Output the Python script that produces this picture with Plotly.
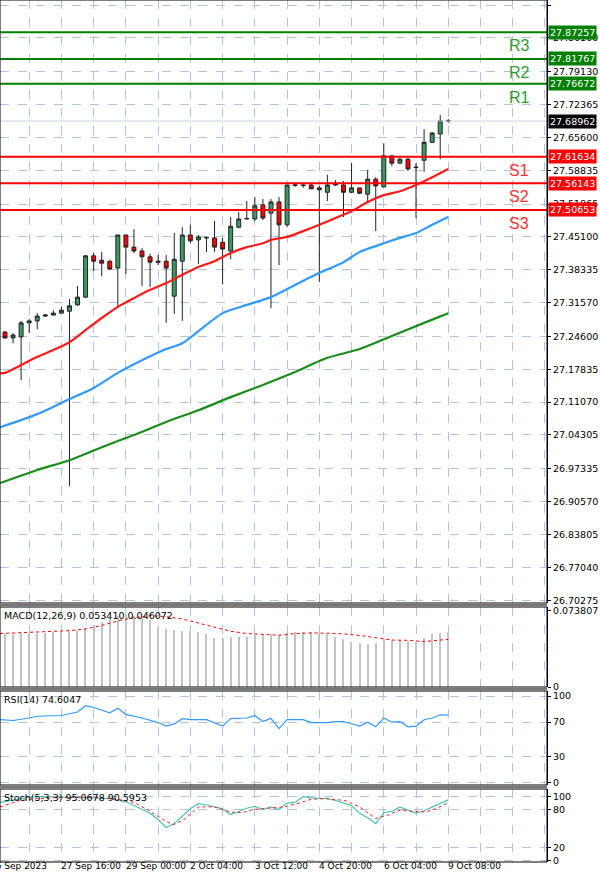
import plotly.graph_objects as go

# ---------------- data ----------------
idx = list(range(56))
opens = [27.255,27.243,27.245,27.274,27.278,27.288,27.290,27.294,27.298,27.311,27.327,27.412,27.403,27.401,27.387,27.455,27.430,27.422,27.410,27.401,
         27.401,27.329,27.401,27.455,27.445,27.449,27.449,27.440,27.422,27.471,27.488,27.488,27.517,27.500,27.523,27.476,27.557,27.558,27.558,27.552,
         27.543,27.562,27.558,27.543,27.552,27.539,27.570,27.554,27.618,27.603,27.611,27.595,27.609,27.646,27.663,27.690]
highs = [27.257,27.253,27.278,27.282,27.294,27.292,27.300,27.307,27.323,27.350,27.414,27.418,27.420,27.403,27.455,27.455,27.467,27.428,27.416,27.414,
         27.414,27.459,27.471,27.476,27.455,27.451,27.484,27.449,27.492,27.502,27.525,27.533,27.529,27.529,27.533,27.558,27.560,27.560,27.560,27.556,
         27.579,27.568,27.566,27.603,27.552,27.589,27.574,27.644,27.618,27.614,27.614,27.603,27.673,27.667,27.702,27.694]
lows = [27.241,27.232,27.156,27.253,27.261,27.286,27.290,27.294,26.938,27.309,27.325,27.381,27.370,27.383,27.304,27.375,27.418,27.350,27.348,27.393,
        27.274,27.292,27.278,27.438,27.395,27.420,27.420,27.354,27.405,27.469,27.487,27.484,27.486,27.304,27.393,27.471,27.554,27.552,27.550,27.358,
        27.525,27.556,27.492,27.541,27.539,27.521,27.463,27.554,27.597,27.601,27.587,27.490,27.585,27.644,27.611,27.686]
closes = [27.243,27.249,27.274,27.278,27.288,27.290,27.294,27.300,27.309,27.327,27.412,27.401,27.397,27.385,27.455,27.430,27.422,27.410,27.399,27.399,
          27.387,27.405,27.455,27.443,27.451,27.450,27.430,27.426,27.473,27.488,27.489,27.515,27.490,27.523,27.476,27.558,27.558,27.557,27.550,27.548,
          27.558,27.558,27.543,27.552,27.541,27.570,27.556,27.618,27.603,27.611,27.591,27.594,27.646,27.665,27.690,27.690]

ma_red_x = [-0.6,0,2,4,6,8,10,12,14,16,18,20,22,24,26,28,30,32,33,35,37,39,41,43,45,47,49,51,53,55]
ma_red_y = [27.170,27.171,27.187,27.204,27.218,27.234,27.259,27.284,27.307,27.325,27.342,27.356,27.373,27.389,27.401,27.418,27.430,27.438,27.445,
            27.451,27.463,27.476,27.490,27.504,27.523,27.537,27.545,27.558,27.574,27.591]
ma_blue_x = [-0.6,4,8,11,14,17,20,22,24,27,30,33,36,39,42,44,47,49,51,53,55]
ma_blue_y = [27.059,27.086,27.117,27.140,27.171,27.197,27.220,27.232,27.257,27.294,27.311,27.327,27.352,27.377,27.399,27.420,27.438,27.449,
             27.459,27.476,27.492]
ma_green_x = [-0.6,4,8,12,16,20,24,28,32,36,40,44,48,52,55]
ma_green_y = [26.944,26.971,26.991,27.018,27.043,27.070,27.094,27.121,27.146,27.173,27.202,27.220,27.247,27.274,27.294]

levels = {"R3": 27.87257, "R2": 27.81767, "R1": 27.76672, "S1": 27.61634, "S2": 27.56143, "S3": 27.50653}
last_price = 27.68962
price_ticks = [27.92865,27.86100,27.79130,27.72365,27.65600,27.58835,27.51865,27.45100,27.38335,27.31570,27.24600,
               27.17835,27.11070,27.04305,26.97335,26.90570,26.83805,26.77040,26.70275]

macd_hist = [0.0518,0.0518,0.0521,0.0524,0.0524,0.0528,0.0531,0.0534,0.0540,0.0553,0.0571,0.0597,0.0634,0.0666,0.0691,0.0697,0.0691,0.0681,
             0.0650,0.0578,0.0565,0.0556,0.0546,0.0540,0.0534,0.0509,0.0477,0.0477,0.0484,0.0484,0.0484,0.0499,0.0509,0.0509,0.0502,0.0521,
             0.0531,0.0531,0.0531,0.0521,0.0509,0.0484,0.0462,0.0440,0.0430,0.0414,0.0430,0.0462,0.0452,0.0452,0.0446,0.0440,0.0471,0.0509,
             0.0524,0.0534]
macd_sig_x = [-0.6,5,8,10,12,14,16,18,20,22,24,26,28,30,32,34,36,38,40,42,44,46,48,50,52,54,55]
macd_sig_y = [0.0518,0.0540,0.0546,0.0562,0.0597,0.0641,0.0672,0.0691,0.0681,0.0659,0.0619,0.0578,0.0540,0.0518,0.0509,0.0502,0.0518,
              0.0524,0.0521,0.0515,0.0499,0.0477,0.0455,0.0452,0.0440,0.0455,0.0461]

rsi_x = [-0.6,1,3,4,7,9,10,11,13,14,15,17,19,20,21,22,23,25,27,28,30,31,32,33,34,35,37,38,40,41,42,44,45,46,47,48,49,50,51,52,53,54,55]
rsi_y = [72.7,71.8,74.7,76.7,77.6,81.6,89.0,86.9,80.8,86.1,78.8,74.7,69.4,65.3,67.8,73.9,72.7,72.7,65.3,73.9,74.7,77.6,70.6,74.3,62.4,
         72.7,72.7,69.4,69.4,70.6,70.6,65.3,69.8,64.5,74.7,69.8,70.6,64.5,65.3,72.7,74.7,78.4,78.0]

stoch_k_x = [-0.6,2,4,7,9,11,13,15,16,18,19,20,21,23,24,25,27,28,30,31,32,33,34,35,36,37,38,40,41,43,44,45,46,47,48,49,50,51,52,54,55]
stoch_k_y = [91,97,100,100,99,98,97,92,86,74,64,52,58,81,89,87,81,72,82,85,80,84,80,90,91,100,98,97,94,86,74,67,58,75,77,84,79,74,78,89,95.07]
stoch_d_x = [-0.6,1.8,4,7,11,14,16,17.5,19.4,20.8,22.2,24,26,28,29.4,30.8,32.7,34.6,36.5,38,39.8,42.2,44,46,47.5,48.9,50.8,52.2,53.6,55]
stoch_d_y = [84,94,97,99,99,96,91,81,66,56,64,84,84,76,75,80,82,84,90,96,97,94,84,66,71,79,77,76,82,90.6]

date_labels = ["26 Sep 2023","27 Sep 16:00","29 Sep 00:00","2 Oct 04:00","3 Oct 12:00","4 Oct 20:00","6 Oct 04:00","9 Oct 08:00"]
date_pos = [-1.9,7,15,23,31,39,47,55]

# ---------------- figure ----------------
H = 882.0
def dom(y0, y1):
    return [1 - y1 / H, 1 - y0 / H]

XR = [-0.62, 67.25]
XD = [0, 547 / 600]
FONT = "DejaVu Sans"
fig = go.Figure()

fig.add_trace(go.Candlestick(x=idx, open=opens, high=highs, low=lows, close=closes,
    increasing=dict(fillcolor="#3c9a5f", line=dict(color="#222222", width=1)),
    decreasing=dict(fillcolor="#ff0000", line=dict(color="#222222", width=1)),
    whiskerwidth=0, showlegend=False, hoverinfo="skip", xaxis="x", yaxis="y"))
for xs, ys, c in [(ma_red_x, ma_red_y, "#ff1a1a"), (ma_blue_x, ma_blue_y, "#3399ff"), (ma_green_x, ma_green_y, "#1a8c1a")]:
    fig.add_trace(go.Scatter(x=xs, y=ys, mode="lines", line=dict(color=c, width=2.2, shape="spline", smoothing=0.6),
                             showlegend=False, xaxis="x", yaxis="y"))

fig.add_trace(go.Bar(x=idx, y=macd_hist, width=0.15, marker=dict(color="#c4c4c4", line=dict(width=0)),
                     showlegend=False, xaxis="x2", yaxis="y2"))
fig.add_trace(go.Scatter(x=macd_sig_x, y=macd_sig_y, mode="lines", line=dict(color="#ff0000", width=1, dash="dot"),
                         showlegend=False, xaxis="x2", yaxis="y2"))
fig.add_trace(go.Scatter(x=rsi_x, y=rsi_y, mode="lines", line=dict(color="#3399ff", width=1.2),
                         showlegend=False, xaxis="x3", yaxis="y3"))
fig.add_trace(go.Scatter(x=stoch_k_x, y=stoch_k_y, mode="lines", line=dict(color="#4cc4b4", width=1.2),
                         showlegend=False, xaxis="x4", yaxis="y4"))
fig.add_trace(go.Scatter(x=stoch_d_x, y=stoch_d_y, mode="lines", line=dict(color="#ff2020", width=1, dash="dot"),
                         showlegend=False, xaxis="x4", yaxis="y4"))

grid_x = list(range(-1, 68, 4))
gridc = "#b4c4d8"
def xax(anchor):
    return dict(domain=XD, range=XR, anchor=anchor, showticklabels=False, tickvals=grid_x, ticks="",
                showgrid=True, gridcolor=gridc, griddash="dash", gridwidth=1, zeroline=False,
                showline=False, rangeslider=dict(visible=False))
def yax(d, r, tv, tt, grid=True):
    return dict(domain=d, range=r, side="right", anchor="free", position=XD[1], tickvals=tv, ticktext=tt,
                ticks="outside", ticklen=3, tickcolor="#000", tickfont=dict(family=FONT, size=9.5, color="#000"),
                showgrid=grid, gridcolor=gridc, griddash="dash", zeroline=False, showline=True, linecolor="#000",
                linewidth=1, fixedrange=True)

main_d = dom(0, 603); macd_d = dom(607, 687); rsi_d = dom(691, 785); st_d = dom(789, 862)
fig.update_layout(
    width=600, height=882, margin=dict(l=0, r=0, t=0, b=0, autoexpand=False),
    paper_bgcolor="white", plot_bgcolor="white", bargap=0,
    xaxis=xax("y"), xaxis2=dict(xax("y2"), matches="x"), xaxis3=dict(xax("y3"), matches="x"),
    xaxis4=dict(xax("y4"), matches="x"),
    yaxis=yax(main_d, [26.697, 27.939], price_ticks, [f"{v:.5f}" for v in price_ticks]),
    yaxis2=yax(macd_d, [0, 0.0775], [0, 0.073807], ["0", "0.073807"], grid=False),
    yaxis3=yax(rsi_d, [-3, 106], [0, 30, 70, 100], ["0", "30", "70", "100"]),
    yaxis4=yax(st_d, [-2, 112], [0, 20, 80, 100], ["0", "20", "80", "100"]),
)

shapes = []
for name, v in levels.items():
    c = "#008000" if name.startswith("R") else "#ff0000"
    shapes.append(dict(type="line", xref="paper", yref="y", x0=0, x1=XD[1], y0=v, y1=v, line=dict(color=c, width=2)))
shapes.append(dict(type="line", xref="paper", yref="y", x0=0, x1=XD[1], y0=last_price, y1=last_price,
                   line=dict(color="#c8d2e0", width=1)))
for d in [main_d, macd_d, rsi_d, st_d]:
    shapes.append(dict(type="rect", xref="paper", yref="paper", x0=0, x1=XD[1], y0=d[0], y1=d[1],
                       line=dict(color="#000", width=1)))
for yy in [605, 689, 787]:
    shapes.append(dict(type="line", xref="paper", yref="paper", x0=0, x1=XD[1], y0=1 - yy / H, y1=1 - yy / H,
                       line=dict(color="#777", width=2)))
fig.update_layout(shapes=shapes)

ann = []
for name, v in levels.items():
    c = "#008000" if name.startswith("R") else "#ff0000"
    tc = "#2e9c2e" if name.startswith("R") else "#ff3030"
    ann.append(dict(x=XD[1] + 0.002, y=v, xref="paper", yref="y", text=f"{v:.5f}", showarrow=False, xanchor="left",
                    bgcolor=c, font=dict(family=FONT, size=9.5, color="white"), borderpad=1))
    ann.append(dict(x=519 / 600, y=v, xref="paper", yref="y", text=name, showarrow=False, xanchor="center",
                    yanchor="top", yshift=-3, font=dict(family="Liberation Sans", size=16, color=tc)))
ann.append(dict(x=XD[1] + 0.002, y=last_price, xref="paper", yref="y", text=f"{last_price:.5f}", showarrow=False,
                xanchor="left", bgcolor="#000", font=dict(family=FONT, size=9.5, color="white"), borderpad=1))
for t, yy in [("MACD(12,26,9) 0.053410 0.046072", 608), ("RSI(14) 74.6047", 692), ("Stoch(5,3,3) 95.0678 90.5953", 790)]:
    ann.append(dict(x=0.003, y=1 - yy / H, xref="paper", yref="paper", text=t, showarrow=False, xanchor="left",
                    yanchor="top", font=dict(family=FONT, size=9.5, color="#000")))
for t, p in zip(date_labels, date_pos):
    xp = (p - XR[0]) / (XR[1] - XR[0]) * XD[1]
    ann.append(dict(x=xp, y=1 - 873 / H, xref="paper", yref="paper", text=t, showarrow=False, xanchor="left",
                    xshift=-2, font=dict(family=FONT, size=9, color="#000")))
fig.update_layout(annotations=ann)

fig.write_html("out.html", config={"displayModeBar": False})
with open("out.html", encoding="utf-8") as f:
    html = f.read()
html = html.replace("<head>", "<head><style>html,body{margin:0;padding:0;overflow:hidden}</style>", 1)
with open("out.html", "w", encoding="utf-8") as f:
    f.write(html)
